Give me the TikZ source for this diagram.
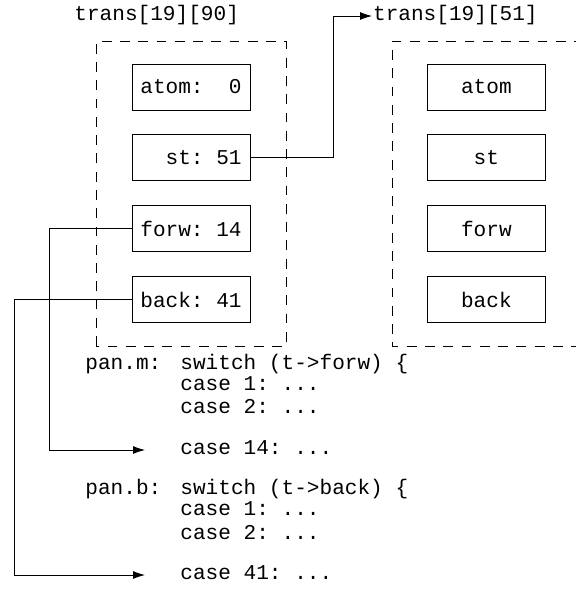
\documentclass[tikz,border=0pt]{standalone}
\usepackage{fontspec}
\setmonofont{Liberation Mono}
\usetikzlibrary{positioning,arrows.meta}

\begin{document}
\begin{tikzpicture}[font=\fontsize{15}{18}\selectfont\ttfamily, line width=0.6pt,
	node distance=0.6cm,
	fld/.style={draw,minimum width=2.95cm,minimum height=1.15cm,inner sep=0pt},
	grp/.style={dash pattern=on 7pt off 6pt},
	code/.style={anchor=west,inner sep=0pt,text height=10pt,text depth=3pt},
	arr/.style={-{Latex[length=3mm,width=2mm]}}]
	\useasboundingbox (0,0) rectangle (14.4,14.975);
	% trans[19][90]
	\node[code] (t90) at (1.85,14.575) {trans[19][90]};
	\draw[grp] (2.4,6.325) rectangle (7.15,13.95);
	\node[fld] (a1) at (4.775,12.8) {atom:\ \ 0};
	\node[fld,below=of a1] (s1) {\phantom{at}st: 51};
	\node[fld,below=of s1] (f1) {forw: 14};
	\node[fld,below=of f1] (b1) {back: 41};
	% trans[19][51]
	\node[code,inner sep=0.5pt] (t51) at (9.3,14.575) {trans[19][51]};
	\draw[grp] (14.6,13.95) -- (9.8,13.95) -- (9.8,6.325) -- (14.6,6.325);
	\node[fld] (a2) at (12.16,12.8) {atom};
	\node[fld,below=of a2] (s2) {st};
	\node[fld,below=of s2] (f2) {forw};
	\node[fld,below=of f2] (b2) {back};
	% pan.m
	\node[code] (pm) at (2.125,5.85) {pan.m:};
	\node[code] (pmsw) at (4.5,5.85) {switch (t->forw) \{};
	\node[code] (pmc1) at (4.5,5.325) {case 1: ...};
	\node[code] (pmc2) at (4.5,4.75) {case 2: ...};
	\node[code] (pmc14) at (4.5,3.725) {case 14: ...};
	% pan.b
	\node[code] (pb) at (2.125,2.725) {pan.b:};
	\node[code] (pbsw) at (4.5,2.725) {switch (t->back) \{};
	\node[code] (pbc1) at (4.5,2.2) {case 1: ...};
	\node[code] (pbc2) at (4.5,1.6) {case 2: ...};
	\node[code] (pbc41) at (4.5,0.6) {case 41: ...};
	% connectors
	\coordinate (sbend) at (8.325,0);
	\coordinate (fbend) at (1.225,0);
	\coordinate (bbend) at (0.35,0);
	\draw[arr] (s1.east) -| (sbend |- t51.west) -- (t51.west);
	\draw[arr,shorten >=0.875cm] (f1.west) -| (fbend |- pmc14.west) -- (pmc14.west);
	\draw[arr,shorten >=0.875cm] (b1.west) -| (bbend |- pbc41.west) -- (pbc41.west);
\end{tikzpicture}
\end{document}
